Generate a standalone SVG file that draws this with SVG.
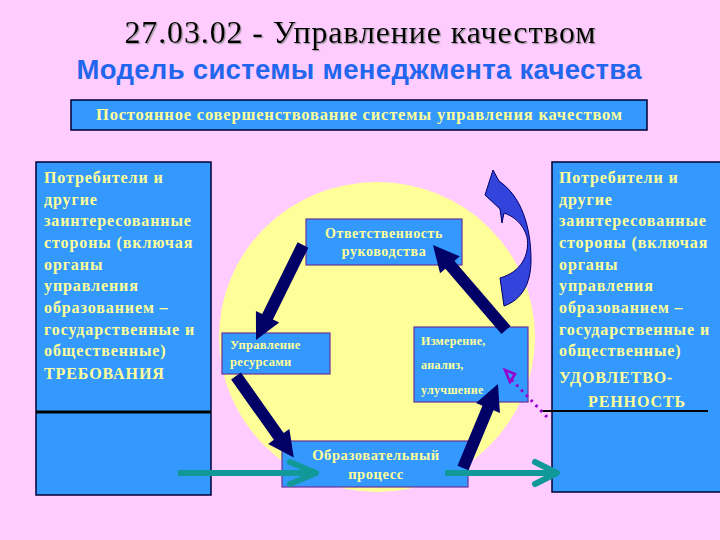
<svg xmlns="http://www.w3.org/2000/svg" width="720" height="540" viewBox="0 0 720 540">
<defs>
<style>
.bg{fill:#FFCCFF}
.big{fill:#3399FF;stroke:#000033;stroke-width:1.5}
.box{fill:#3399FF;stroke:#663399;stroke-width:1.2}
.t{font-family:"Liberation Serif","DejaVu Serif",serif;font-weight:bold;fill:#FFFF99}
.side{font-size:16px;letter-spacing:0.9px}
.nav{fill:#000066}
.teal{stroke:#119999;stroke-width:6;fill:none}
</style>
<filter id="sh" x="-5%" y="-20%" width="110%" height="140%"><feDropShadow dx="1.2" dy="1.2" stdDeviation="0.4" flood-color="#888888" flood-opacity="0.8"/></filter>
</defs>
<rect class="bg" x="0" y="0" width="720" height="540"/>
<g id="title">
<text x="360" y="43" text-anchor="middle" font-family="Liberation Serif, serif" font-size="32" textLength="471" fill="#000000" filter="url(#sh)">27.03.02 - Управление качеством</text>
<text x="359" y="79" text-anchor="middle" font-family="Liberation Sans, Arial, sans-serif" font-weight="bold" font-size="27.5" textLength="565" fill="#2266EE">Модель системы менеджмента качества</text>
</g>
<g id="bar">
<rect class="big" x="71" y="100" width="576" height="30"/>
<text class="t" x="359" y="120" text-anchor="middle" font-size="16.5" textLength="526">Постоянное совершенствование системы управления качеством</text>
</g>
<ellipse id="circle" cx="377" cy="337" rx="158" ry="155" fill="#FFFF99"/>
<g id="left">
<rect class="big" x="36" y="162" width="175" height="333"/>
<line x1="36" y1="412" x2="211" y2="412" stroke="#000000" stroke-width="3"/>
<text class="t side" x="44" y="183">Потребители и</text>
<text class="t side" x="44" y="205">другие</text>
<text class="t side" x="44" y="226">заинтересованные</text>
<text class="t side" x="44" y="248">стороны (включая</text>
<text class="t side" x="44" y="270">органы</text>
<text class="t side" x="44" y="291">управления</text>
<text class="t side" x="44" y="313">образованием –</text>
<text class="t side" x="44" y="335">государственные и</text>
<text class="t side" x="44" y="356">общественные)</text>
<text class="t side" x="44" y="379" font-size="17.5">ТРЕБОВАНИЯ</text>
</g>
<g id="right">
<rect class="big" x="552" y="162" width="170" height="330"/>
<line x1="540" y1="411" x2="708" y2="411" stroke="#000000" stroke-width="2"/>
<text class="t side" x="559" y="183">Потребители и</text>
<text class="t side" x="559" y="205">другие</text>
<text class="t side" x="559" y="226">заинтересованные</text>
<text class="t side" x="559" y="248">стороны (включая</text>
<text class="t side" x="559" y="270">органы</text>
<text class="t side" x="559" y="291">управления</text>
<text class="t side" x="559" y="313">образованием –</text>
<text class="t side" x="559" y="335">государственные и</text>
<text class="t side" x="559" y="356">общественные)</text>
<text class="t side" x="559" y="383" font-size="18.5">УДОВЛЕТВО-</text>
<text class="t side" x="637" y="407" font-size="17.5" text-anchor="middle">РЕННОСТЬ</text>
</g>
<g id="resp">
<rect class="box" x="306" y="219" width="156" height="46"/>
<text class="t" x="384" y="238" font-size="14" letter-spacing="0.6" text-anchor="middle">Ответственность</text>
<text class="t" x="384" y="256" font-size="14" letter-spacing="0.6" text-anchor="middle">руководства</text>
</g>
<g id="res">
<rect class="box" x="222" y="333" width="108" height="41"/>
<text class="t" x="230" y="349" font-size="12.5" letter-spacing="0.3">Управление</text>
<text class="t" x="230" y="366" font-size="12.5" letter-spacing="0.3">ресурсами</text>
</g>
<g id="meas">
<rect class="box" x="414" y="327" width="114" height="75"/>
<text class="t" x="421" y="345" font-size="12" letter-spacing="0.3">Измерение,</text>
<text class="t" x="421" y="369" font-size="12" letter-spacing="0.3">анализ,</text>
<text class="t" x="421" y="394" font-size="12" letter-spacing="0.3">улучшение</text>
</g>
<g id="proc">
<rect class="box" x="282" y="441" width="186" height="46"/>
<text class="t" x="376" y="460" font-size="14.5" letter-spacing="0.6" text-anchor="middle">Образовательный</text>
<text class="t" x="376" y="479" font-size="14.5" letter-spacing="0.6" text-anchor="middle">процесс</text>
</g>
<g id="connectors">
<polygon class="nav" transform="translate(303,245) rotate(116.3)" points="0,-6 80,-6 80,-13 106,0 80,13 80,6 0,6"/>
<polygon class="nav" transform="translate(236,376) rotate(54.7)" points="0,-6 74,-6 74,-13 100,0 74,13 74,6 0,6"/>
<polygon class="nav" transform="translate(463,468) rotate(-67.4)" points="0,-6 65,-6 65,-13 91,0 65,13 65,6 0,6"/>
<polygon class="nav" transform="translate(506,330) rotate(-130.7)" points="0,-6 86,-6 86,-13 112,0 86,13 86,6 0,6"/>
<line class="teal" x1="178" y1="473" x2="314" y2="473"/>
<polyline class="teal" points="290,462 316,473 290,484" stroke-linecap="round" stroke-linejoin="round"/>
<line class="teal" x1="445" y1="473" x2="555" y2="473"/>
<polyline class="teal" points="535,462 557,473 535,484" stroke-linecap="round" stroke-linejoin="round"/>
<line x1="547" y1="417" x2="510" y2="378" stroke="#9900CC" stroke-width="3" stroke-dasharray="2.5 4.5"/>
<polygon points="505,370 515,374 510,382" fill="none" stroke="#9900CC" stroke-width="2.5"/>
<path d="M493,170 L485,195 L500,209 L502,223 L504,213 C513,216 523,223 527,237 C530,255 521,272 500,278 L504,306 C521,300 531,285 531,260 C531,226 521,196 499,181 Z" fill="#3344DD" stroke="#000066" stroke-width="1"/>
</g>
</svg>
